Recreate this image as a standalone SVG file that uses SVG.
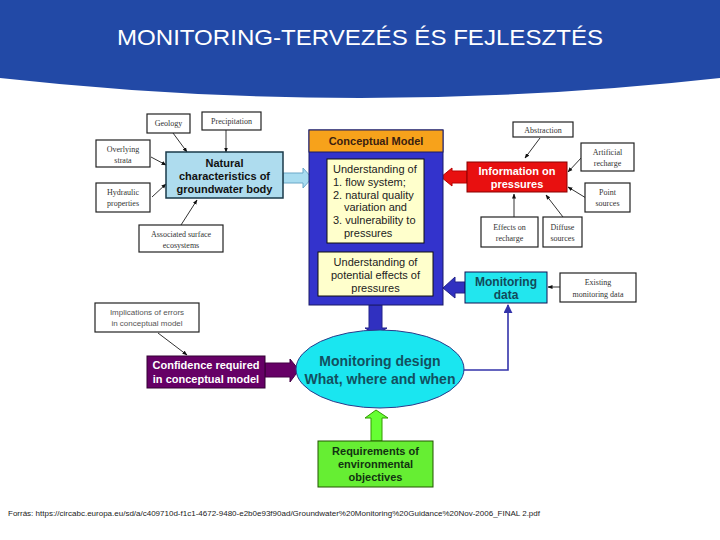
<svg xmlns="http://www.w3.org/2000/svg" width="720" height="540" viewBox="0 0 720 540">
<defs>
<marker id="ah" viewBox="0 0 10 10" refX="9" refY="5" markerWidth="5" markerHeight="5" orient="auto-start-reverse" markerUnits="userSpaceOnUse">
<path d="M0,1 L10,5 L0,9 Z" fill="#111"/>
</marker>
<marker id="ahb" viewBox="0 0 10 10" refX="9" refY="5" markerWidth="9" markerHeight="9" orient="auto" markerUnits="userSpaceOnUse">
<path d="M0,0 L10,5 L0,10 Z" fill="#3333aa"/>
</marker>
<style>
.sm{fill:#fff;stroke:#222;stroke-width:1.2}
.st{font-family:"Liberation Serif",serif;font-size:8px;fill:#333;text-anchor:middle}
.ss{font-family:"Liberation Sans",Arial,sans-serif;font-size:8px;fill:#555;text-anchor:middle}
.bt{font-family:"Liberation Sans",Arial,sans-serif;font-weight:bold;font-size:11px;text-anchor:middle}
.big{font-size:14px}
.md{font-size:12px}
.nt{font-family:"Liberation Sans",Arial,sans-serif;font-size:11px;fill:#222}
.thin{stroke:#333;stroke-width:1;fill:none;marker-end:url(#ah)}
</style>
</defs>
<rect width="720" height="540" fill="#fff"/>
<g id="header">
<path d="M0,0 H720 V78 Q360,118 0,78 Z" fill="#2249a6"/>
<text x="360" y="45" font-family="'Liberation Sans',Arial,sans-serif" font-size="22" fill="#fff" text-anchor="middle" textLength="486" lengthAdjust="spacingAndGlyphs">MONITORING-TERVEZÉS ÉS FEJLESZTÉS</text>
</g>
<g id="connectors">
<line class="thin" x1="173" y1="133" x2="187" y2="152"/>
<line class="thin" x1="226" y1="130" x2="226" y2="152"/>
<line class="thin" x1="151" y1="157" x2="166" y2="165"/>
<line class="thin" x1="152" y1="197" x2="166" y2="184"/>
<line class="thin" x1="181" y1="225" x2="197" y2="200"/>
<line class="thin" x1="540" y1="138" x2="525" y2="158"/>
<line class="thin" x1="582" y1="157" x2="568" y2="172"/>
<line class="thin" x1="586" y1="198" x2="568" y2="187"/>
<line class="thin" x1="514" y1="217" x2="514" y2="194"/>
<line class="thin" x1="563" y1="217" x2="546" y2="195"/>
<line class="thin" x1="560" y1="287" x2="548" y2="287"/>
<line class="thin" x1="158" y1="333" x2="187" y2="355"/>
<polyline points="462,370 508,370 508,305" fill="none" stroke="#3333aa" stroke-width="1.6" marker-end="url(#ahb)"/>
<polygon points="283,173 303,173 303,168 312,178 303,188 303,183 283,183" fill="#a8dcf0" stroke="#6aa8c8" stroke-width="1"/>
<polygon points="467,171 452,171 452,168 441,177 452,186 452,183 467,183" fill="#e81010" stroke="#b00" stroke-width="1"/>
<polygon points="465,282 455,282 455,277 443,288 455,298 455,293 465,293" fill="#3030c0" stroke="#22228a" stroke-width="1"/>
<polygon points="369,305 382,305 382,328 387,328 376,335 365,328 369,328" fill="#3030c0" stroke="#22228a" stroke-width="1"/>
<polygon points="265,363 290,363 290,359 299,370 290,382 290,377 265,377" fill="#660066" stroke="#440044" stroke-width="1"/>
<polygon points="371,441 382,441 382,418 388,418 376,410 365,418 371,418" fill="#66ff33" stroke="#339900" stroke-width="1"/>
</g>
<g id="geology"><rect class="sm" x="147" y="114" width="43" height="19"/><text class="st" x="168.5" y="126">Geology</text></g>
<g id="precipitation"><rect class="sm" x="202" y="112" width="59" height="18"/><text class="st" x="231.5" y="124">Precipitation</text></g>
<g id="overlying"><rect class="sm" x="96" y="140" width="54" height="27"/><text class="st" x="123" y="152">Overlying</text><text class="st" x="123" y="163">strata</text></g>
<g id="hydraulic"><rect class="sm" x="96" y="183" width="54" height="29"/><text class="st" x="123" y="195">Hydraulic</text><text class="st" x="123" y="206">properties</text></g>
<g id="ecosystems"><rect class="sm" x="139" y="225" width="84" height="27"/><text class="st" x="181" y="237">Associated surface</text><text class="st" x="181" y="248">ecosystems</text></g>
<g id="natural">
<rect x="166" y="152" width="117" height="46" fill="#aedcee" stroke="#1a3a4a" stroke-width="1.5"/>
<text class="bt" x="224.5" y="167" fill="#111">Natural</text>
<text class="bt" x="224.5" y="180" fill="#111">characteristics of</text>
<text class="bt" x="224.5" y="193" fill="#111">groundwater body</text>
</g>
<g id="conceptual">
<rect x="309" y="130" width="134" height="175" fill="#3333cc" stroke="#1a1a66" stroke-width="1"/>
<rect x="309" y="130" width="134" height="22" fill="#f7a21b" stroke="#1a1a66" stroke-width="1"/>
<text class="bt" x="376" y="145" fill="#3a2010">Conceptual Model</text>
<rect x="327" y="159" width="97" height="84" fill="#ffffcc" stroke="#111" stroke-width="1"/>
<text class="nt" x="333" y="173">Understanding of</text>
<text class="nt" x="333" y="186">1. flow system;</text>
<text class="nt" x="333" y="199">2. natural quality</text>
<text class="nt" x="344" y="211">variation and</text>
<text class="nt" x="333" y="224">3. vulnerability to</text>
<text class="nt" x="344" y="237">pressures</text>
<rect x="318" y="252" width="115" height="44" fill="#ffffcc" stroke="#111" stroke-width="1"/>
<text class="nt" x="375.5" y="266" text-anchor="middle">Understanding of</text>
<text class="nt" x="375.5" y="279" text-anchor="middle">potential effects of</text>
<text class="nt" x="375.5" y="292" text-anchor="middle">pressures</text>
</g>
<g id="abstraction"><rect class="sm" x="513" y="122" width="60" height="15"/><text class="st" x="543" y="133">Abstraction</text></g>
<g id="artificial"><rect class="sm" x="581" y="143" width="53" height="28"/><text class="st" x="607.5" y="155">Artificial</text><text class="st" x="607.5" y="166">recharge</text></g>
<g id="point"><rect class="sm" x="585" y="183" width="45" height="29"/><text class="st" x="607.5" y="195">Point</text><text class="st" x="607.5" y="206">sources</text></g>
<g id="effects"><rect class="sm" x="481" y="217" width="57" height="30"/><text class="st" x="509.5" y="230">Effects on</text><text class="st" x="509.5" y="241">recharge</text></g>
<g id="diffuse"><rect class="sm" x="543" y="217" width="39" height="30"/><text class="st" x="562.5" y="230">Diffuse</text><text class="st" x="562.5" y="241">sources</text></g>
<g id="pressures">
<rect x="467" y="162" width="100" height="30" fill="#e81010" stroke="#800" stroke-width="1"/>
<text class="bt" x="517" y="175" fill="#fff">Information on</text>
<text class="bt" x="517" y="188" fill="#fff">pressures</text>
</g>
<g id="monitoringdata">
<rect x="465" y="272" width="82" height="31" fill="#22e6ee" stroke="#115" stroke-width="1"/>
<text class="bt md" x="506" y="286" fill="#124a5a">Monitoring</text>
<text class="bt md" x="506" y="299" fill="#124a5a">data</text>
</g>
<g id="existing"><rect class="sm" x="560" y="273" width="76" height="29"/><text class="st" x="598" y="285">Existing</text><text class="st" x="598" y="297">monitoring data</text></g>
<g id="implications"><rect class="sm" x="95" y="303" width="104" height="29" stroke="#555"/><text class="ss" x="147" y="315">Implications of errors</text><text class="ss" x="147" y="326">in conceptual model</text></g>
<g id="confidence">
<rect x="147" y="356" width="118" height="32" fill="#660066" stroke="#330033" stroke-width="1"/>
<text class="bt" x="206" y="369" fill="#fff">Confidence required</text>
<text class="bt" x="206" y="383" fill="#fff">in conceptual model</text>
</g>
<g id="design">
<ellipse cx="380" cy="369" rx="84" ry="39" fill="#1ae6f0" stroke="#2a3a8a" stroke-width="1"/>
<text class="bt big" x="380" y="366" fill="#125060">Monitoring design</text>
<text class="bt big" x="380" y="384" fill="#125060">What, where and when</text>
</g>
<g id="requirements">
<rect x="318" y="441" width="115" height="46" fill="#66ee33" stroke="#225500" stroke-width="1"/>
<text class="bt" x="375.5" y="455" fill="#113311">Requirements of</text>
<text class="bt" x="375.5" y="468" fill="#113311">environmental</text>
<text class="bt" x="375.5" y="481" fill="#113311">objectives</text>
</g>
<g id="footer">
<text x="8" y="516" font-family="'Liberation Sans',Arial,sans-serif" font-size="8" fill="#222" textLength="532" lengthAdjust="spacingAndGlyphs">Forrás: https://circabc.europa.eu/sd/a/c409710d-f1c1-4672-9480-e2b0e93f90ad/Groundwater%20Monitoring%20Guidance%20Nov-2006_FINAL 2.pdf</text>
</g>
</svg>
